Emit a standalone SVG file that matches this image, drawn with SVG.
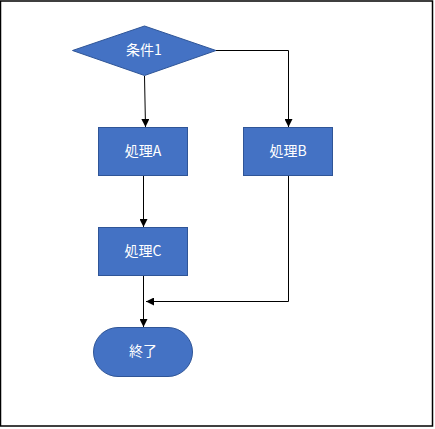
<svg xmlns="http://www.w3.org/2000/svg" width="435" height="429" viewBox="0 0 435 429">
<defs>
<style>
.shape{fill:#4472C4;stroke:#2F5597;stroke-width:1}
.lbl{fill:#FFFFFF;font-family:"Noto Sans CJK JP","Noto Sans",sans-serif;font-size:14px;text-anchor:middle;dominant-baseline:central}
.conn{fill:none;stroke:#000000;stroke-width:1}
</style>
<marker id="arr" viewBox="0 0 10 10" refX="10" refY="5" markerWidth="8" markerHeight="8" markerUnits="userSpaceOnUse" orient="auto">
<path d="M0,0 L10,5 L0,10 z" fill="#000000"/>
</marker>
</defs>
<rect x="0.5" y="1" width="432" height="425" fill="#FFFFFF" stroke="#000000" stroke-width="1.5"/>
<g id="connectors">
<path class="conn" d="M144.5,76 L145.5,127" marker-end="url(#arr)"/>
<path class="conn" d="M216,50.5 L288.5,50.5 L288.5,127" marker-end="url(#arr)"/>
<path class="conn" d="M143.5,176 L143.5,227" marker-end="url(#arr)"/>
<path class="conn" d="M288.5,176 L288.5,301.5 L146,301.5" marker-end="url(#arr)"/>
<path class="conn" d="M143.5,275.5 L143.5,327" marker-end="url(#arr)"/>
</g>
<g id="cond1">
<polygon class="shape" points="72.5,50.5 144.5,26 216,50.5 144.5,75.5"/>
<text class="lbl" x="144" y="48.5">条件1</text>
</g>
<g id="procA">
<rect class="shape" x="98.5" y="127.5" width="89" height="48"/>
<text class="lbl" x="143" y="149.5">処理A</text>
</g>
<g id="procB">
<rect class="shape" x="243.5" y="127.5" width="89" height="48"/>
<text class="lbl" x="288" y="149.5">処理B</text>
</g>
<g id="procC">
<rect class="shape" x="98.5" y="227.5" width="89" height="48"/>
<text class="lbl" x="143" y="249.5">処理C</text>
</g>
<g id="end">
<rect class="shape" x="93.5" y="327.5" width="99" height="49" rx="24.5" ry="24.5"/>
<text class="lbl" x="143" y="350">終了</text>
</g>
</svg>
